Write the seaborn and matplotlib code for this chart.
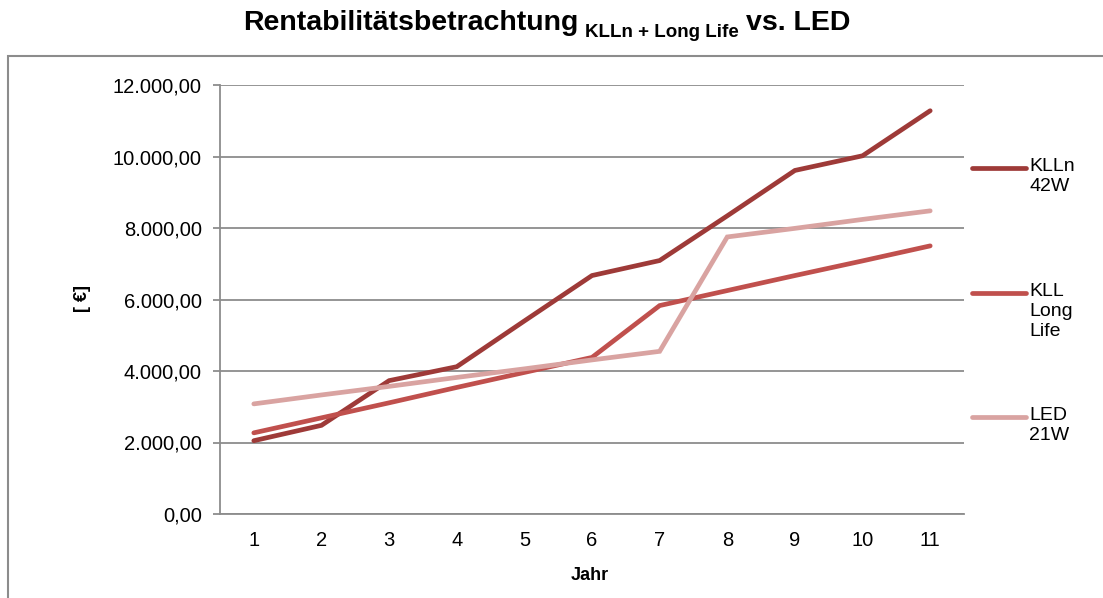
import matplotlib
matplotlib.use("Agg")
import matplotlib.pyplot as plt
import matplotlib.ticker as mticker
from matplotlib.lines import Line2D
from matplotlib.patches import Rectangle
import seaborn as sns
import pandas as pd

years = [1, 2, 3, 4, 5, 6, 7, 8, 9, 10, 11]
klln_42w = [2050, 2480, 3730, 4120, 5400, 6670, 7090, 8340, 9610, 10020, 11280]
kll_longlife = [2270, 2690, 3110, 3540, 3960, 4380, 5830, 6250, 6670, 7080, 7500]
led_21w = [3080, 3330, 3570, 3820, 4060, 4310, 4550, 7750, 7990, 8240, 8480]
series_names = ["KLLn 42W", "KLL Long Life", "LED 21W"]
legend_labels = ["KLLn\n42W", "KLL\nLong\nLife", "LED\n21W"]
colors = ["#9E3A38", "#C0504D", "#D9A3A1"]
yticks = [0, 2000, 4000, 6000, 8000, 10000, 12000]

df = pd.DataFrame({
    "Jahr": years * 3,
    "Wert": klln_42w + kll_longlife + led_21w,
    "Serie": [series_names[0]] * 11 + [series_names[1]] * 11 + [series_names[2]] * 11,
})

sns.set_style("white")
plt.rcParams["font.family"] = ["Liberation Sans", "DejaVu Sans"]
plt.rcParams["text.color"] = "black"
plt.rcParams["axes.labelcolor"] = "black"
plt.rcParams["xtick.labelcolor"] = "black"
plt.rcParams["ytick.labelcolor"] = "black"

W, H = 1103, 598
fig = plt.figure(figsize=(W / 100, H / 100), dpi=100)
ax = fig.add_axes([220 / W, 1 - 514 / H, (964 - 220) / W, (514 - 85) / H])

sns.lineplot(data=df, x="Jahr", y="Wert", hue="Serie", palette=colors,
             hue_order=series_names, ax=ax, linewidth=3.4, legend=False,
             solid_capstyle="round", solid_joinstyle="miter")

ax.set_xlim(0.5, 11.5)
ax.set_ylim(0, 12000)
ax.set_xticks(years)
ax.set_yticks(yticks)
ax.yaxis.set_major_formatter(mticker.FuncFormatter(
    lambda v, p: f"{v:,.2f}".replace(",", "X").replace(".", ",").replace("X", ".")))

grid_c = "#8C8C8C"
ax.grid(axis="y", color=grid_c, linewidth=1.3)
ax.set_axisbelow(True)
for s in ["top", "right"]:
    ax.spines[s].set_visible(False)
for s in ["left", "bottom"]:
    ax.spines[s].set_color(grid_c)
    ax.spines[s].set_linewidth(1.3)
ax.tick_params(axis="y", length=5, width=1.3, color=grid_c, labelcolor="black",
               labelsize=14.5, pad=8, left=True)
ax.tick_params(axis="x", length=0, labelcolor="black", labelsize=14.5, pad=12)

ax.set_xlabel("Jahr", fontsize=13, fontweight="bold", color="black")
ax.set_ylabel("[ €]", fontsize=13, fontweight="bold", color="black")
ax.xaxis.set_label_coords((590 - 220) / 744, -(575 - 514) / 429)
ax.yaxis.set_label_coords((82 - 220) / 744, (514 - 299) / 429)
ax.xaxis.label.set_va("center")
ax.yaxis.label.set_va("center")

# chart frame
fig.add_artist(Rectangle((8 / W, -0.05), 1.2, (1 - 56 / H) + 0.05, transform=fig.transFigure,
                         fill=False, edgecolor="#8C8C8C", linewidth=1.5, clip_on=False))

# legend (manual, Excel style: key aligned with first text line)
key_y = [168, 293, 417]
for lab, c, yp in zip(legend_labels, colors, key_y):
    fig.add_artist(Line2D([972 / W, 1026 / W], [1 - yp / H] * 2, transform=fig.transFigure,
                          color=c, linewidth=3.4, solid_capstyle="round"))
    fig.text(1029 / W, 1 - (yp - 10) / H, lab, fontsize=14, va="top", ha="left",
             linespacing=1.25, color="black")

# title with subscript
fig.canvas.draw()
r = fig.canvas.get_renderer()
base_y = 1 - 30 / H
t1 = fig.text(243 / W, base_y, "Rentabilitätsbetrachtung", fontsize=20.5,
              fontweight="bold", va="baseline", color="black")
e1 = t1.get_window_extent(r)
t2 = fig.text((e1.x1 + 7) / W, 1 - 37 / H, "KLLn + Long Life", fontsize=13.5,
              fontweight="bold", va="baseline", color="black")
e2 = t2.get_window_extent(r)
t3 = fig.text((e2.x1 + 7) / W, base_y, "vs. LED", fontsize=20.5,
              fontweight="bold", va="baseline", color="black")

fig.savefig("out.png", dpi=100)
